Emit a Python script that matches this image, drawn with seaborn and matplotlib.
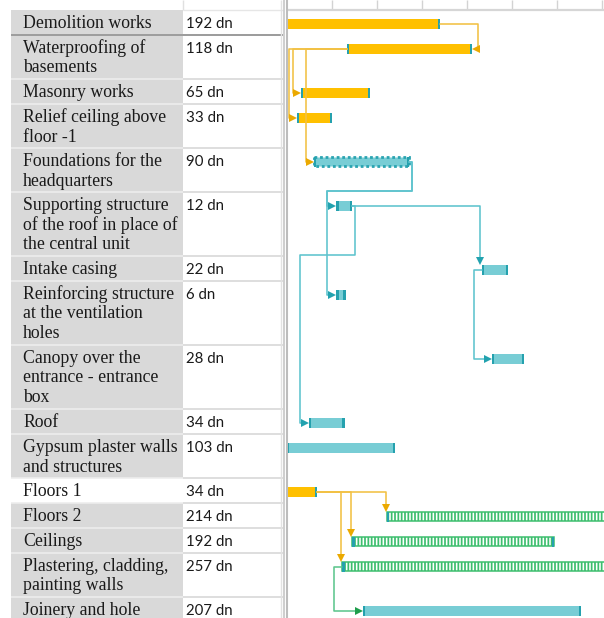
import numpy as np
import pandas as pd
import matplotlib
matplotlib.use("Agg")
import matplotlib.pyplot as plt
import seaborn as sns

# ---------------- data ----------------
tasks = [
    "Demolition works",
    "Waterproofing of\nbasements",
    "Masonry works",
    "Relief ceiling above\nfloor -1",
    "Foundations for the\nheadquarters",
    "Supporting structure\nof the roof in place of\nthe central unit",
    "Intake casing",
    "Reinforcing structure\nat the ventilation\nholes",
    "Canopy over the\nentrance - entrance\nbox",
    "Roof",
    "Gypsum plaster walls\nand structures",
    "Floors 1",
    "Floors 2",
    "Ceilings",
    "Plastering, cladding,\npainting walls",
    "Joinery and hole",
]
durations = ["192 dn", "118 dn", "65 dn", "33 dn", "90 dn", "12 dn", "22 dn", "6 dn",
             "28 dn", "34 dn", "103 dn", "34 dn", "214 dn", "192 dn", "257 dn", "207 dn"]
# start / finish in days from the left edge of the visible timescale
starts   = [-40, 56, 13, 9.3, 25, 46, 182, 46, 191.5, 20.5, 0, -4, 93.5, 61, 51.5, 71]
finishes = [143, 173, 77.5, 42, 114, 61, 206.5, 55, 221.5, 54, 101, 28, 320, 249.5, 330, 275]
kinds = ["orange", "orange", "orange", "orange", "teal_dots", "teal", "teal", "teal",
         "teal", "teal", "teal", "orange", "green", "green", "green", "teal"]
row_lines = [1, 2, 1, 2, 2, 3, 1, 3, 3, 1, 2, 1, 1, 1, 2, 2]

link_from = [0, 1, 1, 1, 4, 4, 5, 5, 6, 11, 11, 11, 14]
link_to   = [1, 2, 3, 4, 5, 7, 6, 9, 8, 12, 13, 14, 15]
link_type = ["FF", "SS", "SS", "SS", "FS", "FS", "FS", "FS", "SS", "FS", "FS", "FS", "SS"]

timescale_ticks = [42, 84, 126, 168, 210, 252, 294]

# ---------------- layout / style ----------------
W, H = 604, 618
PX_PER_DAY = 1.07
GX0 = 287
row_h = {1: 25, 2: 44, 3: 64}
TOP0 = 10

heights = np.array([row_h[n] for n in row_lines], dtype=float)
tops = TOP0 + np.concatenate([[0], np.cumsum(heights)[:-1]])
bottoms = tops + heights
ycent = tops + 13.5
BAR_H = 10

def dpx(p):
    return p / PX_PER_DAY

sns.set_style("white")
plt.rcParams["hatch.linewidth"] = 1.25

fig = plt.figure(figsize=(W / 100, H / 100), dpi=100)

# ---------------- table ----------------
tab = fig.add_axes([0, 0, GX0 / W, 1])
tab.set_xlim(0, GX0)
tab.set_ylim(H, 0)
tab.axis("off")

name_fill = ["#D9D9D9"] * len(tasks)
name_fill[11] = "white"
tab.barh(tops + heights / 2, 172, left=11, height=heights, color=name_fill, lw=0)
tab.hlines(bottoms, 11, 183, color="#EDEDED", lw=1.2)
tab.hlines(bottoms, 183, 283, color="#D8D8D8", lw=1.2)
tab.hlines([bottoms[0]], 11, 283, color="#9C9C9C", lw=1.4)
tab.hlines([TOP0], 183, 283, color="#E6E6E6", lw=1.0)
tab.vlines([183], 0, TOP0, color="#E0E0E0", lw=1.0)
tab.vlines([280.5], 0, H, color="#E2E2E2", lw=1.0)
tab.vlines([283.5], 0, H, color="#C6C6C6", lw=1.2)

for i, (name, dur) in enumerate(zip(tasks, durations)):
    for j, line in enumerate(name.split("\n")):
        tab.text(23, tops[i] + 18 + 19.5 * j, line, fontsize=12.8,
                 family="Liberation Serif", color="#1A1A1A", va="baseline", ha="left")
    tab.text(186, tops[i] + 18, dur, fontsize=10.8, family="Lato",
             color="#1A1A1A", va="baseline", ha="left")

# ---------------- gantt ----------------
ax = fig.add_axes([GX0 / W, 0, (W - GX0) / W, 1])
ax.set_xlim(0, dpx(W - GX0))
ax.set_ylim(H, 0)
for s in ["top", "right", "bottom"]:
    ax.spines[s].set_visible(False)
ax.spines["left"].set_color("#BDBDBD")
ax.spines["left"].set_linewidth(1.5)
ax.set_yticks([])
ax.xaxis.tick_top()
ax.set_xticks(timescale_ticks)
ax.tick_params(axis="x", direction="in", length=6.5, width=1, color="#D3D3D3",
               labeltop=False, labelbottom=False, top=True, bottom=False)
ax.axhline(TOP0, color="#D6D6D6", lw=1.6)

link_col = {"orange": "#F2C144", "teal": "#5EC3CD", "teal_dots": "#5EC3CD", "green": "#5EC68D"}
arrow_col = {"orange": "#EBA900", "teal": "#22A2AF", "teal_dots": "#22A2AF", "green": "#1E9E4C"}
LW = 1.15
MS = 6

# links (drawn first, under bars)
for a, b, t in zip(link_from, link_to, link_type):
    ps, pe, py = starts[a], finishes[a], ycent[a]
    ss, se, sy = starts[b], finishes[b], ycent[b]
    lc, ac = link_col[kinds[a]], arrow_col[kinds[a]]
    if t == "FF":
        xt = max(pe, se) + dpx(6)
        xs = [pe, xt, xt, se + dpx(5)]
        ys = [py, py, sy, sy]
        ax.plot(xs, ys, color=lc, lw=LW, solid_joinstyle="round")
        ax.plot([se + dpx(4)], [sy], marker="<", ms=MS, color=ac, mew=0)
    elif t == "SS":
        xv = min(ps, ss) - dpx(8)
        xs = [ps, xv, xv, ss - dpx(5)]
        ys = [py, py, sy, sy]
        ax.plot(xs, ys, color=lc, lw=LW)
        ax.plot([ss - dpx(4)], [sy], marker=">", ms=MS, color=ac, mew=0)
    else:  # FS
        if ss >= pe:
            xv = ss - dpx(1.5)
            ytop = sy - BAR_H / 2
            ax.plot([pe, xv, xv], [py, py, ytop - 5], color=lc, lw=LW)
            ax.plot([xv], [ytop - 4], marker="v", ms=MS, color=ac, mew=0)
        else:
            xr = pe + dpx(3)
            yb = bottoms[a] - 1.5
            xv = ss - dpx(9)
            xs = [pe, xr, xr, xv, xv, ss - dpx(5)]
            ys = [py, py, yb, yb, sy, sy]
            ax.plot(xs, ys, color=lc, lw=LW)
            ax.plot([ss - dpx(4)], [sy], marker=">", ms=MS, color=ac, mew=0)

# bars
CAP = "#25A1AE"
capw = dpx(2.4)
for i, k in enumerate(kinds):
    s, f, y = starts[i], finishes[i], ycent[i]
    if k == "orange":
        ax.barh(y, f - s, left=s, height=BAR_H, color="#FFC000", lw=0)
    elif k == "teal":
        ax.barh(y, f - s, left=s, height=BAR_H, color="#78CDD5", lw=0)
    elif k == "teal_dots":
        ax.barh(y, f - s, left=s, height=BAR_H - 1.5, color="#78CDD5",
                edgecolor="#2AA4B1", lw=2.0, linestyle=(0, (1, 1)))
    else:
        ax.barh(y, f - s, left=s, height=BAR_H - 1, color="white",
                edgecolor="#3DBE6E", hatch="|||||", lw=1.1)
    ax.barh(y, capw, left=s, height=BAR_H, color=CAP, lw=0)
    ax.barh(y, capw, left=f - capw, height=BAR_H, color=CAP, lw=0)

fig.savefig("out.png", dpi=100)
